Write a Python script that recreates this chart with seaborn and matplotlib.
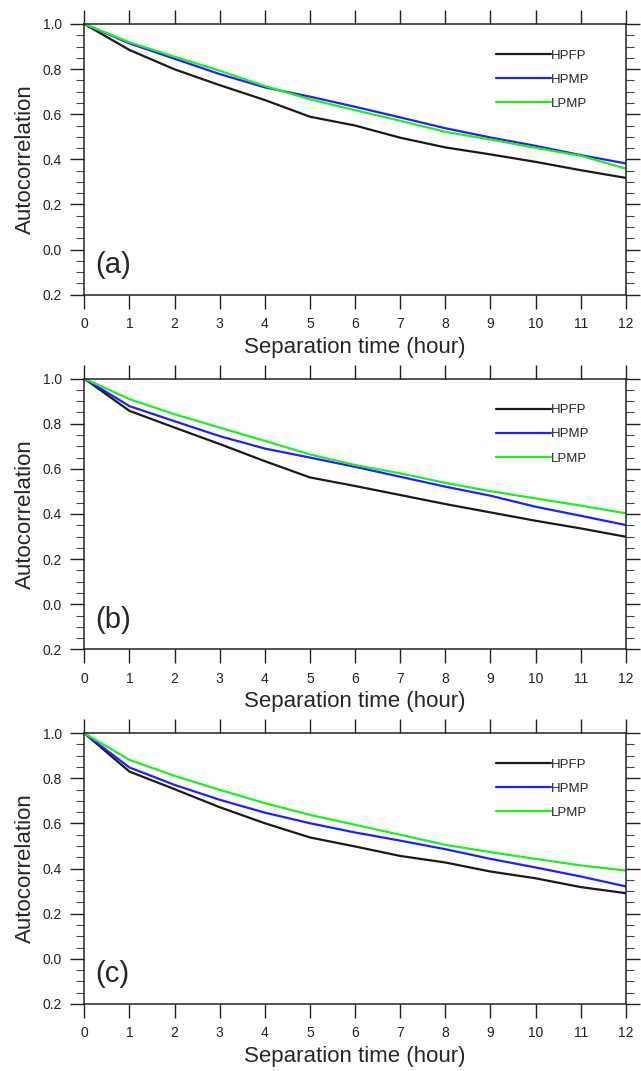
import numpy as np
import pandas as pd
import seaborn as sns
import matplotlib.pyplot as plt
from matplotlib.ticker import MultipleLocator, FixedLocator

# separation time (hour)
hours = list(range(0, 13))
series_names = ["HPFP", "HPMP", "LPMP"]
panel_tags = ["(a)", "(b)", "(c)"]

# panel (a)
a_hpfp = [1.0, 0.885, 0.799, 0.729, 0.663, 0.589, 0.550, 0.496, 0.453, 0.422, 0.389, 0.352, 0.318]
a_hpmp = [1.0, 0.914, 0.846, 0.778, 0.719, 0.678, 0.633, 0.586, 0.538, 0.497, 0.460, 0.419, 0.382]
a_lpmp = [1.0, 0.919, 0.855, 0.793, 0.725, 0.666, 0.618, 0.571, 0.522, 0.488, 0.451, 0.416, 0.359]

# panel (b)
b_hpfp = [1.0, 0.857, 0.783, 0.710, 0.634, 0.562, 0.524, 0.484, 0.444, 0.407, 0.370, 0.336, 0.299]
b_hpmp = [1.0, 0.878, 0.811, 0.745, 0.690, 0.650, 0.609, 0.565, 0.521, 0.481, 0.432, 0.392, 0.351]
b_lpmp = [1.0, 0.909, 0.842, 0.783, 0.724, 0.664, 0.617, 0.580, 0.538, 0.501, 0.469, 0.437, 0.403]

# panel (c)
c_hpfp = [1.0, 0.830, 0.752, 0.672, 0.601, 0.538, 0.498, 0.456, 0.427, 0.387, 0.357, 0.318, 0.291]
c_hpmp = [1.0, 0.848, 0.771, 0.705, 0.648, 0.601, 0.560, 0.524, 0.486, 0.443, 0.405, 0.365, 0.321]
c_lpmp = [1.0, 0.882, 0.811, 0.749, 0.690, 0.638, 0.594, 0.550, 0.505, 0.473, 0.443, 0.414, 0.391]

y_ticks = [1.0, 0.8, 0.6, 0.4, 0.2, 0.0, -0.2]
y_tick_labels = ["1.0", "0.8", "0.6", "0.4", "0.2", "0.0", "0.2"]

panels = [(a_hpfp, a_hpmp, a_lpmp), (b_hpfp, b_hpmp, b_lpmp), (c_hpfp, c_hpmp, c_lpmp)]
palette = {"HPFP": "#1a1a1a", "HPMP": "#2020ff", "LPMP": "#20ee20"}

sns.set_theme(style="ticks")
plt.rcParams['font.family'] = ['Liberation Sans', 'DejaVu Sans']

fig = plt.figure(figsize=(6.41, 10.71), dpi=100)
bottoms = [0.7248, 0.3937, 0.0626]

for vals, tag, bot in zip(panels, panel_tags, bottoms):
    ax = fig.add_axes([0.1315, bot, 0.8448, 0.2528])
    df = pd.DataFrame({"hour": hours, "HPFP": vals[0], "HPMP": vals[1], "LPMP": vals[2]})
    long = pd.melt(df, ["hour"], var_name="series", value_name="value")
    sns.lineplot(data=long, x="hour", y="value", hue="series", palette=palette,
                 linewidth=1.6, ax=ax)
    ax.set_xlim(0, 12)
    ax.set_ylim(-0.2, 1.0)
    ax.xaxis.set_major_locator(MultipleLocator(1))
    ax.yaxis.set_major_locator(FixedLocator(y_ticks))
    ax.set_yticklabels(y_tick_labels)
    ax.yaxis.set_minor_locator(MultipleLocator(0.05))
    ax.tick_params(axis="both", which="major", direction="out", length=10, width=1.0,
                   labelsize=10, colors="#222222", top=True, right=True)
    ax.tick_params(axis="y", which="minor", direction="out", length=6, width=0.8,
                   left=True, right=True, colors="#444444")
    ax.tick_params(axis="x", which="major", pad=6)
    ax.tick_params(axis="y", which="major", pad=6)
    for s in ax.spines.values():
        s.set_linewidth(1.1)
        s.set_color("#222222")
    ax.set_xlabel("Separation time (hour)", fontsize=16, labelpad=4)
    ax.set_ylabel("Autocorrelation", fontsize=16, labelpad=5)
    ax.text(0.02, 0.11, tag, transform=ax.transAxes, fontsize=21, ha="left", va="center")
    ax.legend(loc="upper left", bbox_to_anchor=(0.760, 0.906), frameon=False,
              handlelength=4.2, handletextpad=0.0, labelspacing=0.9, borderpad=0,
              borderaxespad=0, fontsize=9.5, title=None)

plt.savefig("out.png", dpi=100)
